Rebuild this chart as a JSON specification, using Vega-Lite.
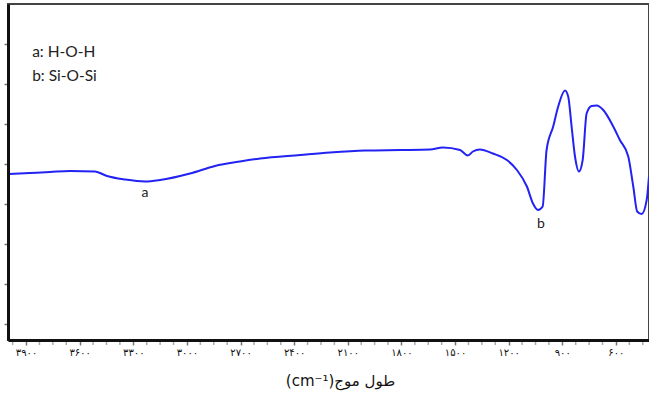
{
  "$schema": "https://vega.github.io/schema/vega-lite/v6.json",
  "width": 641,
  "height": 336,
  "autosize": {"type": "none"},
  "padding": {"left": 8, "top": 4, "right": 0, "bottom": 60},
  "background": "white",
  "config": {
    "view": {"stroke": "#444444", "strokeWidth": 2}
  },
  "datasets": {
    "spectrum": [
      {"wn": 4000, "t": 30.0},
      {"wn": 3878, "t": 30.2},
      {"wn": 3766, "t": 30.4},
      {"wn": 3654, "t": 30.6},
      {"wn": 3514, "t": 30.5},
      {"wn": 3447, "t": 29.6},
      {"wn": 3346, "t": 28.9},
      {"wn": 3234, "t": 28.5},
      {"wn": 3150, "t": 28.8},
      {"wn": 2983, "t": 30.1},
      {"wn": 2843, "t": 31.6},
      {"wn": 2703, "t": 32.5},
      {"wn": 2591, "t": 33.1},
      {"wn": 2367, "t": 33.8},
      {"wn": 2200, "t": 34.3},
      {"wn": 2004, "t": 34.7},
      {"wn": 1808, "t": 34.8},
      {"wn": 1640, "t": 34.9},
      {"wn": 1568, "t": 35.3},
      {"wn": 1472, "t": 34.8},
      {"wn": 1428, "t": 33.7},
      {"wn": 1400, "t": 34.5},
      {"wn": 1361, "t": 34.9},
      {"wn": 1288, "t": 34.1},
      {"wn": 1210, "t": 32.8},
      {"wn": 1154, "t": 30.8},
      {"wn": 1098, "t": 27.5},
      {"wn": 1064, "t": 24.1},
      {"wn": 1036, "t": 22.8},
      {"wn": 1010, "t": 23.5},
      {"wn": 988, "t": 34.8},
      {"wn": 951, "t": 39.5},
      {"wn": 923, "t": 43.5},
      {"wn": 885, "t": 46.7},
      {"wn": 867, "t": 45.5},
      {"wn": 848, "t": 39.5},
      {"wn": 829, "t": 33.5},
      {"wn": 807, "t": 30.5},
      {"wn": 786, "t": 32.8},
      {"wn": 764, "t": 42.1},
      {"wn": 736, "t": 43.6},
      {"wn": 708, "t": 43.7},
      {"wn": 671, "t": 42.8},
      {"wn": 615, "t": 39.5},
      {"wn": 578, "t": 36.8},
      {"wn": 531, "t": 33.5},
      {"wn": 503, "t": 27.5},
      {"wn": 481, "t": 22.5},
      {"wn": 456, "t": 22.0},
      {"wn": 428, "t": 24.8},
      {"wn": 415, "t": 29.5}
    ],
    "minor": [
      {"wn": 3975}, {"wn": 3825}, {"wn": 3750}, {"wn": 3675}, {"wn": 3525}, {"wn": 3450}, {"wn": 3375},
      {"wn": 3225}, {"wn": 3150}, {"wn": 3075}, {"wn": 2925}, {"wn": 2850}, {"wn": 2775},
      {"wn": 2625}, {"wn": 2550}, {"wn": 2475}, {"wn": 2325}, {"wn": 2250}, {"wn": 2175},
      {"wn": 2025}, {"wn": 1950}, {"wn": 1875}, {"wn": 1725}, {"wn": 1650}, {"wn": 1575},
      {"wn": 1425}, {"wn": 1350}, {"wn": 1275}, {"wn": 1125}, {"wn": 1050}, {"wn": 975},
      {"wn": 825}, {"wn": 750}, {"wn": 675}, {"wn": 525}, {"wn": 450}
    ],
    "peaks": [
      {"wn": 3234, "t": 26.2, "text": "a"},
      {"wn": 1019, "t": 20.0, "text": "b"}
    ],
    "legend": [
      {"wn": 3866, "t": 54.4, "text": "a: H-O-H"},
      {"wn": 3866, "t": 49.6, "text": "b: Si-O-Si"}
    ]
  },
  "layer": [
    {
      "data": {"name": "spectrum"},
      "mark": {"type": "line", "color": "#2222f2", "strokeWidth": 2, "interpolate": "monotone", "clip": true},
      "encoding": {
        "x": {
          "field": "wn",
          "type": "quantitative",
          "scale": {"domain": [4001, 415], "nice": false, "zero": false},
          "axis": {
            "title": "(cm⁻¹)طول موج",
            "titleFont": "DejaVu Sans",
            "titleFontSize": 15,
            "titleFontWeight": "normal",
            "titleColor": "#111111",
            "titlePadding": 16,
            "titleX": 332,
            "values": [3900, 3600, 3300, 3000, 2700, 2400, 2100, 1800, 1500, 1200, 900, 600],
            "labelExpr": "datum.value == 3900 ? '۳۹۰۰' : datum.value == 3600 ? '۳۶۰۰' : datum.value == 3300 ? '۳۳۰۰' : datum.value == 3000 ? '۳۰۰۰' : datum.value == 2700 ? '۲۷۰۰' : datum.value == 2400 ? '۲۴۰۰' : datum.value == 2100 ? '۲۱۰۰' : datum.value == 1800 ? '۱۸۰۰' : datum.value == 1500 ? '۱۵۰۰' : datum.value == 1200 ? '۱۲۰۰' : datum.value == 900 ? '۹۰۰' : '۶۰۰'",
            "labelFont": "DejaVu Sans",
            "labelFontSize": 10,
            "labelColor": "#111111",
            "tickSize": 5,
            "tickColor": "#777777",
            "tickWidth": 1.5,
            "domainColor": "#111111",
            "domainWidth": 3,
            "grid": false,
            "zindex": 1
          }
        },
        "y": {
          "field": "t",
          "type": "quantitative",
          "scale": {"domain": [-3.2, 64], "nice": false, "zero": false},
          "axis": {
            "title": null,
            "values": [0,4,8,12,16,20,24,28,32,36,40,44,48,52,56,60],
            "labels": false,
            "tickSize": 4,
            "tickColor": "#777777",
            "tickWidth": 1.5,
            "domainColor": "#111111",
            "domainWidth": 3,
            "grid": false,
            "zindex": 1
          }
        },
        "order": {"field": "wn", "type": "quantitative", "sort": "descending"}
      }
    },
    {
      "data": {"name": "minor"},
      "mark": {"type": "tick", "orient": "vertical", "size": 6, "thickness": 1.5, "color": "#888888", "clip": false, "yOffset": 2},
      "encoding": {
        "x": {"field": "wn", "type": "quantitative"},
        "y": {"datum": -3.2}
      }
    },
    {
      "data": {"name": "peaks"},
      "mark": {"type": "text", "font": "Lato", "fontSize": 14, "color": "#222222", "baseline": "middle", "align": "center"},
      "encoding": {
        "x": {"field": "wn", "type": "quantitative"},
        "y": {"field": "t", "type": "quantitative"},
        "text": {"field": "text"}
      }
    },
    {
      "data": {"name": "legend"},
      "mark": {"type": "text", "font": "Lato", "fontSize": 15.5, "color": "#222222", "baseline": "middle", "align": "left"},
      "encoding": {
        "x": {"field": "wn", "type": "quantitative"},
        "y": {"field": "t", "type": "quantitative"},
        "text": {"field": "text"}
      }
    }
  ]
}
